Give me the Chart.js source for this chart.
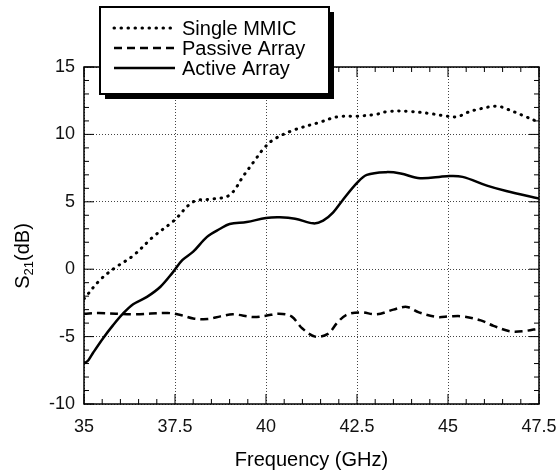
<!DOCTYPE html>
<html>
<head>
<meta charset="utf-8">
<script src="https://cdn.jsdelivr.net/npm/chart.js@4.4.0/dist/chart.umd.min.js"></script>
<style>
  html, body { margin: 0; padding: 0; background: #fff; }
  #wrap { width: 560px; height: 476px; }
</style>
</head>
<body>
<div id="wrap"><canvas id="myChart" width="560" height="476"></canvas></div>
<script>
// values (GHz, dB)
const mmicFreq = [35.0, 35.44, 35.85, 36.35, 36.9, 37.47, 38.0, 38.5, 39.0, 39.4, 39.7, 39.92, 40.2, 40.74, 41.48, 41.95, 42.5, 43.05, 43.35, 43.96, 44.5, 44.86, 45.25, 45.5, 45.88, 46.35, 46.6, 47.06, 47.5];
const mmicGain = [-2.2, -0.8, 0.1, 1.0, 2.4, 3.6, 5.0, 5.2, 5.5, 7.0, 8.1, 8.9, 9.6, 10.3, 10.9, 11.3, 11.35, 11.5, 11.7, 11.7, 11.55, 11.4, 11.3, 11.6, 11.9, 12.1, 11.9, 11.4, 10.9];

const passiveFreq = [35.0, 35.4, 36.35, 37.3, 37.65, 38.0, 38.4, 38.75, 39.1, 39.65, 40.0, 40.35, 40.7, 41.0, 41.35, 41.7, 41.95, 42.2, 42.6, 43.05, 43.5, 43.87, 44.2, 44.7, 45.05, 45.4, 45.9, 46.25, 46.7, 47.06, 47.5];
const passiveGain = [-3.3, -3.25, -3.35, -3.25, -3.4, -3.65, -3.7, -3.5, -3.35, -3.55, -3.45, -3.3, -3.5, -4.4, -5.0, -4.8, -4.0, -3.4, -3.2, -3.35, -3.0, -2.8, -3.2, -3.55, -3.5, -3.5, -3.8, -4.2, -4.6, -4.6, -4.4];

const activeFreq = [35.0, 35.12, 35.25, 35.53, 35.8, 36.07, 36.35, 36.73, 37.1, 37.45, 37.7, 38.0, 38.38, 38.74, 39.0, 39.47, 40.0, 40.38, 40.8, 41.3, 41.57, 41.84, 42.1, 42.5, 42.77, 43.3, 43.7, 44.23, 44.97, 45.4, 46.07, 46.6, 47.5];
const activeGain = [-7.0, -6.75, -6.2, -5.1, -4.15, -3.3, -2.6, -2.05, -1.3, -0.2, 0.67, 1.3, 2.4, 3.0, 3.35, 3.5, 3.8, 3.85, 3.75, 3.4, 3.6, 4.2, 5.1, 6.4, 7.0, 7.2, 7.1, 6.75, 6.9, 6.85, 6.2, 5.8, 5.25];

const seriesNames = ['Single MMIC', 'Passive Array', 'Active Array'];
const xTicks = [35, 37.5, 40, 42.5, 45, 47.5];
const yTicks = [-10, -5, 0, 5, 10, 15];

const FONT = "'Liberation Sans', Arial, sans-serif";

function pts(xs, ys) {
    return xs.map((x, i) => ({ x: x, y: ys[i] }));
}

const lineStyles = [
    { dash: [0.5, 6.5], cap: 'round', width: 3 },
    { dash: [8, 5], cap: 'butt', width: 2.5 },
    { dash: [], cap: 'butt', width: 2.5 }
];

// frame, inward ticks, legend box and y title
const decorPlugin = {
    id: 'decor',
    afterDraw(chart) {
        const ctx = chart.ctx;
        const a = chart.chartArea;
        const xs = chart.scales.x, ys = chart.scales.y;
        ctx.save();
        ctx.strokeStyle = '#000';
        ctx.lineWidth = 1.5;
        ctx.strokeRect(a.left, a.top, a.right - a.left, a.bottom - a.top);

        ctx.lineWidth = 1;
        for (let v = 35; v <= 47.5001; v += 0.5) {
            const px = xs.getPixelForValue(v);
            const major = Math.abs(v / 2.5 - Math.round(v / 2.5)) < 1e-6;
            const len = major ? 10 : 5;
            ctx.beginPath();
            ctx.moveTo(px, a.bottom); ctx.lineTo(px, a.bottom - len);
            ctx.moveTo(px, a.top); ctx.lineTo(px, a.top + len);
            ctx.stroke();
        }
        for (let v = -10; v <= 15; v += 1) {
            const py = ys.getPixelForValue(v);
            const major = v % 5 === 0;
            const len = major ? 10 : 5;
            ctx.beginPath();
            ctx.moveTo(a.left, py); ctx.lineTo(a.left + len, py);
            ctx.moveTo(a.right, py); ctx.lineTo(a.right - len, py);
            ctx.stroke();
        }

        // y axis title with subscript
        ctx.fillStyle = '#000';
        ctx.translate(29, 256);
        ctx.rotate(-Math.PI / 2);
        ctx.textBaseline = 'alphabetic';
        ctx.font = '20px ' + FONT;
        const w1 = ctx.measureText('S').width;
        ctx.font = '13px ' + FONT;
        const w2 = ctx.measureText('21').width;
        ctx.font = '20px ' + FONT;
        const w3 = ctx.measureText('(dB)').width;
        let x0 = -(w1 + w2 + w3) / 2;
        ctx.fillText('S', x0, 0);
        ctx.font = '13px ' + FONT;
        ctx.fillText('21', x0 + w1, 4);
        ctx.font = '20px ' + FONT;
        ctx.fillText('(dB)', x0 + w1 + w2, 0);
        ctx.restore();

        // legend box with drop shadow
        ctx.save();
        const bx = 100, by = 7, bw = 229, bh = 87;
        ctx.fillStyle = '#000';
        ctx.fillRect(bx + 5, by + 5, bw, bh);
        ctx.fillStyle = '#fff';
        ctx.fillRect(bx, by, bw, bh);
        ctx.strokeStyle = '#000';
        ctx.lineWidth = 2;
        ctx.strokeRect(bx, by, bw, bh);
        ctx.font = '20px ' + FONT;
        ctx.textBaseline = 'middle';
        ctx.fillStyle = '#000';
        const rows = [28, 48, 68];
        seriesNames.forEach((name, i) => {
            ctx.beginPath();
            ctx.lineWidth = lineStyles[i].width;
            ctx.setLineDash(lineStyles[i].dash);
            ctx.lineCap = lineStyles[i].cap;
            ctx.moveTo(114, rows[i]);
            ctx.lineTo(175, rows[i]);
            ctx.stroke();
            ctx.setLineDash([]);
            ctx.fillText(name, 182, rows[i] + 1);
        });
        ctx.restore();
    }
};

const datasets = [mmicGain, passiveGain, activeGain].map((g, i) => ({
    label: seriesNames[i],
    data: pts([mmicFreq, passiveFreq, activeFreq][i], g),
    borderColor: '#000',
    borderWidth: lineStyles[i].width,
    borderDash: lineStyles[i].dash,
    borderCapStyle: lineStyles[i].cap,
    pointRadius: 0,
    tension: 0.35,
    fill: false
}));

const ctx = document.getElementById('myChart').getContext('2d');
const myChart = new Chart(ctx, {
    type: 'line',
    data: { datasets: datasets },
    options: {
        responsive: false,
        animation: false,
        layout: { padding: { top: 67, right: 21, left: 0, bottom: 0 } },
        plugins: { legend: { display: false }, tooltip: { enabled: false } },
        scales: {
            x: {
                type: 'linear',
                min: 35, max: 47.5,
                afterFit: (s) => { s.height = 72; s.paddingLeft = 0; s.paddingRight = 0; },
                afterBuildTicks: (s) => { s.ticks = xTicks.map(v => ({ value: v })); },
                ticks: {
                    color: '#111',
                    font: { family: FONT, size: 18 },
                    padding: 12,
                    maxRotation: 0,
                    callback: (v) => String(v)
                },
                grid: { color: '#444', lineWidth: 1, drawTicks: false },
                border: { display: false, dash: [1, 2] },
                title: {
                    display: true,
                    text: 'Frequency (GHz)',
                    color: '#000',
                    font: { family: FONT, size: 20 },
                    padding: { top: 14 }
                }
            },
            y: {
                type: 'linear',
                min: -10, max: 15,
                afterFit: (s) => { s.width = 84; s.paddingTop = 0; s.paddingBottom = 0; },
                afterBuildTicks: (s) => { s.ticks = yTicks.map(v => ({ value: v })); },
                ticks: {
                    color: '#111',
                    font: { family: FONT, size: 18 },
                    padding: 9
                },
                grid: { color: '#444', lineWidth: 1, drawTicks: false },
                border: { display: false, dash: [1, 2] }
            }
        }
    },
    plugins: [decorPlugin]
});
</script>
</body>
</html>
